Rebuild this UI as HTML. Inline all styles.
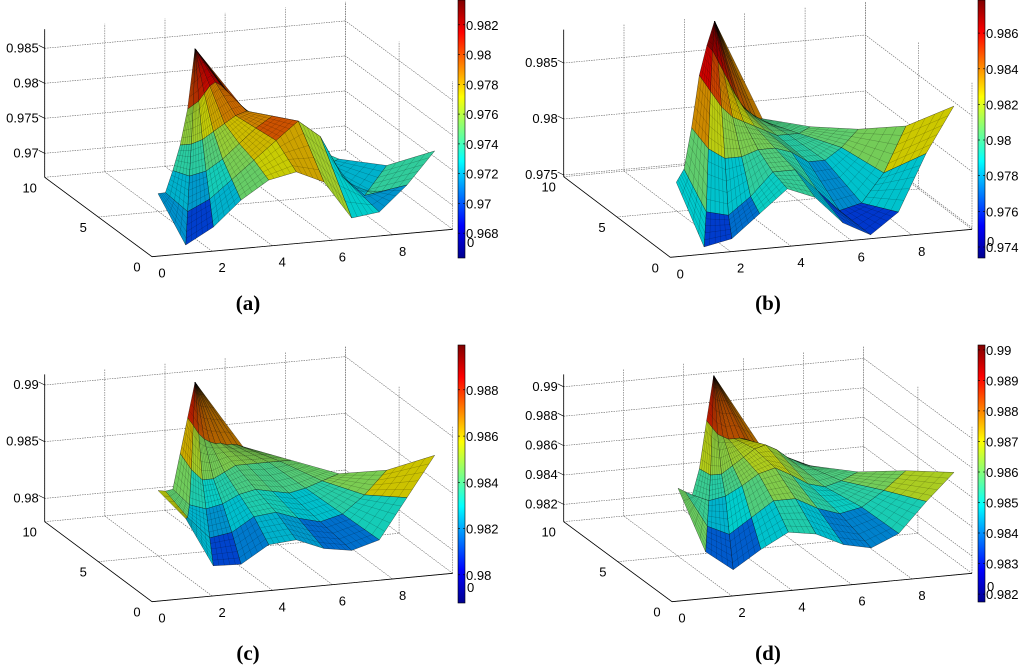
<!DOCTYPE html>
<html><head><meta charset="utf-8"><title>Surface plots (a)-(d)</title>
<style>
html,body{margin:0;padding:0;background:#fff;}
svg{display:block;}
text{font-family:"Liberation Sans",Arial,sans-serif;}
.cap{font-family:"Liberation Serif","Times New Roman",serif;font-weight:bold;font-size:21px;}
</style></head>
<body>
<svg id="fig" xmlns="http://www.w3.org/2000/svg" width="1024" height="665" viewBox="0 0 1024 665">
<defs>
<linearGradient id="jet" x1="0" y1="1" x2="0" y2="0">
<stop offset="0" stop-color="#00008f"/><stop offset="0.125" stop-color="#0000ff"/>
<stop offset="0.375" stop-color="#00ffff"/><stop offset="0.625" stop-color="#ffff00"/>
<stop offset="0.875" stop-color="#ff0000"/><stop offset="1" stop-color="#800000"/>
</linearGradient>
</defs>
</svg>
<script>
// ---- data ----
const rowY=[0,2,4,6,8,10];
const colU=[0,0.1,0.2,0.3,0.4,0.5,0.6,0.7,0.8,0.9,1];
const xTicks=[0,2,4,6,8];
const xGrid=[0,2,4,6,8,10];
const yTicks=[0,5,10];
const zTicksA=[0.97,0.975,0.98,0.985];
const zTicksB=[0.975,0.98,0.985];
const zTicksC=[0.98,0.985,0.99];
const zTicksD=[0.982,0.984,0.986,0.988,0.99];
const cbTicksA=[0.968,0.97,0.972,0.974,0.976,0.978,0.98,0.982];
const cbTicksB=[0.974,0.976,0.978,0.98,0.982,0.984,0.986];
const cbTicksC=[0.98,0.982,0.984,0.986,0.988];
const cbTicksD=[0.982,0.983,0.984,0.985,0.986,0.987,0.988,0.989,0.99];
const surfaceA=[
[0.9755,0.9678,0.9700,0.9735,0.9760,0.9768,0.9750,0.9695,0.9700,0.9735,0.9780],
[0.9730,0.9700,0.9715,0.9740,0.9765,0.9790,0.9815,0.9790,0.9730,0.9700,0.9740],
[0.9735,0.9725,0.9730,0.9745,0.9765,0.9785,0.9800,0.9780,0.9740,0.9720,0.9730],
[0.9745,0.9745,0.9750,0.9760,0.9770,0.9780,0.9785,0.9770,0.9755,0.9740,0.9740],
[0.9770,0.9775,0.9780,0.9790,0.9800,0.9805,0.9800,0.9790,0.9780,0.9770,0.9765],
[0.9830,0.9830,0.9830,0.9830,0.9830,0.9830,0.9830,0.9830,0.9830,0.9830,0.9830]];
const surfaceB=[
[0.9815,0.9755,0.9760,0.9780,0.9800,0.9790,0.9765,0.9752,0.9770,0.9820,0.9860],
[0.9810,0.9770,0.9765,0.9780,0.9800,0.9800,0.9780,0.9760,0.9765,0.9790,0.9830],
[0.9830,0.9810,0.9800,0.9800,0.9805,0.9805,0.9800,0.9790,0.9790,0.9800,0.9815],
[0.9860,0.9845,0.9830,0.9820,0.9815,0.9810,0.9805,0.9800,0.9800,0.9800,0.9805],
[0.9870,0.9865,0.9855,0.9845,0.9835,0.9825,0.9815,0.9810,0.9805,0.9800,0.9800],
[0.9875,0.9875,0.9875,0.9875,0.9875,0.9875,0.9875,0.9875,0.9875,0.9875,0.9875]];
const surfaceC=[
[0.9877,0.9850,0.9806,0.9805,0.9820,0.9822,0.9812,0.9808,0.9815,0.9850,0.9885],
[0.9860,0.9835,0.9815,0.9818,0.9830,0.9832,0.9825,0.9820,0.9825,0.9840,0.9860],
[0.9845,0.9830,0.9825,0.9828,0.9835,0.9838,0.9835,0.9832,0.9835,0.9840,0.9845],
[0.9860,0.9845,0.9835,0.9835,0.9840,0.9845,0.9845,0.9845,0.9845,0.9845,0.9845],
[0.9875,0.9868,0.9860,0.9855,0.9852,0.9850,0.9850,0.9848,0.9848,0.9847,0.9845],
[0.9890,0.9890,0.9890,0.9890,0.9890,0.9890,0.9890,0.9890,0.9890,0.9890,0.9890]];
const surfaceD=[
[0.9885,0.9840,0.9826,0.9838,0.9848,0.9845,0.9836,0.9832,0.9840,0.9860,0.9878],
[0.9870,0.9845,0.9838,0.9848,0.9858,0.9858,0.9850,0.9845,0.9848,0.9858,0.9870],
[0.9855,0.9850,0.9852,0.9858,0.9865,0.9868,0.9862,0.9855,0.9852,0.9855,0.9860],
[0.9860,0.9855,0.9855,0.9860,0.9865,0.9870,0.9872,0.9868,0.9862,0.9858,0.9855],
[0.9880,0.9875,0.9870,0.9868,0.9866,0.9866,0.9866,0.9865,0.9862,0.9860,0.9858],
[0.9898,0.9898,0.9898,0.9898,0.9898,0.9898,0.9898,0.9898,0.9898,0.9898,0.9898]];

// ---- geometry (layout, not data) ----
const panels=[
 {id:'a',FL:[152,256.7],FR:[452.7,229.3],BL:[44.7,177.3],zmin:0.96657,zs:7000,ztop:0.98771,zt:zTicksA,
  cb:{x:458,w:7,y0:0,y1:258,vmin:0.96633,vmax:0.98367,ticks:cbTicksA,zero:243},cap:[248,303],surf:surfaceA},
 {id:'b',FL:[670.3,257.3],FR:[972,229.3],BL:[563.7,176.7],zmin:0.97485,zs:11200,ztop:0.98798,zt:zTicksB,
  cb:{x:978,w:7,y0:0,y1:258,vmin:0.97338,vmax:0.98786,ticks:cbTicksB,zero:242},cap:[768,303],surf:surfaceB},
 {id:'c',FL:[152,601.7],FR:[452.7,573.3],BL:[44.7,521.7],zmin:0.97794,zs:11333,ztop:0.99094,zt:zTicksC,
  cb:{x:458,w:7,y0:345,y1:603,vmin:0.97878,vmax:0.98994,ticks:cbTicksC,zero:588},cap:[248,653],surf:surfaceC},
 {id:'d',FL:[672,601.7],FR:[972,573.3],BL:[563.7,521.7],zmin:0.98082,zs:14700,ztop:0.99084,zt:zTicksD,
  cb:{x:978,w:7,y0:345,y1:602,vmin:0.98174,vmax:0.99016,ticks:cbTicksD,zero:587},cap:[768,653],surf:surfaceD}
];
const NS='http://www.w3.org/2000/svg';
const svg=document.getElementById('fig');
function mk(tag,attrs,parent){const e=document.createElementNS(NS,tag);for(const k in attrs)e.setAttribute(k,attrs[k]);(parent||svg).appendChild(e);return e;}
function P(g,x,y,z){return [g.FL[0]+x*(g.FR[0]-g.FL[0])/10+y*(g.BL[0]-g.FL[0])/10,
 g.FL[1]+x*(g.FR[1]-g.FL[1])/10+y*(g.BL[1]-g.FL[1])/10-(z-g.zmin)*g.zs];}
function jet(t){t=Math.max(0,Math.min(1,t));const c=v=>Math.round(255*Math.max(0,Math.min(1,v)));
 return [c(1.5-Math.abs(4*t-3)),c(1.5-Math.abs(4*t-2)),c(1.5-Math.abs(4*t-1))];}
function xl(y){return 0.2+0.48*y;}
function xr(y){return 9.4-0.44*y;}
function fmt(v){return String(+v.toFixed(4));}
function lerp(a,b,t){return [a[0]+(b[0]-a[0])*t,a[1]+(b[1]-a[1])*t];}

panels.forEach(g=>{
 const grp=mk('g',{});
 
 
 const gridStyle={stroke:'#666','stroke-width':0.6,'stroke-dasharray':'1.5 1',fill:'none'};
 function line(a,b,name,style,parent){const l=mk('line',Object.assign({x1:a[0].toFixed(1),y1:a[1].toFixed(1),x2:b[0].toFixed(1),y2:b[1].toFixed(1)},style),parent);
  
  return l;}
 xGrid.forEach(x=>{line(P(g,x,10,g.zmin),P(g,x,10,g.ztop),'back-wall-gridline',gridStyle,grp);});
 g.zt.forEach(z=>{line(P(g,0,10,z),P(g,10,10,z),'back-wall-z-gridline',gridStyle,grp);});
 yTicks.forEach(y=>{line(P(g,10,y,g.zmin),P(g,10,y,g.ztop),'side-wall-gridline',gridStyle,grp);});
 g.zt.forEach(z=>{line(P(g,10,0,z),P(g,10,10,z),'side-wall-z-gridline',gridStyle,grp);});
 xGrid.forEach(x=>{line(P(g,x,0,g.zmin),P(g,x,10,g.zmin),'floor-x-gridline',gridStyle,grp);});
 yTicks.forEach(y=>{line(P(g,0,y,g.zmin),P(g,10,y,g.zmin),'floor-y-gridline',gridStyle,grp);});
 const ax={stroke:'#000','stroke-width':0.8};
 line(P(g,0,0,g.zmin),P(g,10,0,g.zmin),'x-axis-line',ax,grp);
 line(P(g,0,0,g.zmin),P(g,0,10,g.zmin),'y-axis-line',ax,grp);
 line(P(g,0,10,g.zmin),P(g,0,10,g.ztop),'z-axis-line',ax,grp);
 const quads=[];
 for(let i=0;i<rowY.length-1;i++){for(let j=0;j<colU.length-1;j++){
  const pts=[[i,j],[i,j+1],[i+1,j+1],[i+1,j]].map(([r,c])=>{const y=rowY[r];const x=xl(y)+colU[c]*(xr(y)-xl(y));return {x:x,y:y,z:g.surf[r][c]};});
  const cx=pts.reduce((s,p)=>s+p.x,0)/4, cy=pts.reduce((s,p)=>s+p.y,0)/4;
  const zm=pts.reduce((s,p)=>s+p.z,0)/4;
  quads.push({pts:pts,depth:P(g,cx,cy,g.zmin)[1],zm:zm});
 }}
 quads.sort((a,b)=>a.depth-b.depth);
 const sg=mk('g',{},grp);
 
 
 quads.forEach(q=>{
  const col=jet((q.zm-g.cb.vmin)/(g.cb.vmax-g.cb.vmin)).map(v=>Math.round(v*0.8));
  const sp=q.pts.map(p=>P(g,p.x,p.y,p.z));
  const d=sp.map(p=>p.map(v=>v.toFixed(1)).join(',')).join(' ');
  const pg=mk('polygon',{points:d,fill:'rgb('+col.join(',')+')',stroke:'rgba(0,0,0,0.6)','stroke-width':0.5,'stroke-linejoin':'round'},sg);
  
  
  // dense mesh look
  let dm='';
  for(let k=1;k<5;k++){const t=k/5;
   const a=lerp(sp[0],sp[1],t),b=lerp(sp[3],sp[2],t);dm+='M'+a[0].toFixed(1)+' '+a[1].toFixed(1)+'L'+b[0].toFixed(1)+' '+b[1].toFixed(1);
   const c=lerp(sp[0],sp[3],t),e=lerp(sp[1],sp[2],t);dm+='M'+c[0].toFixed(1)+' '+c[1].toFixed(1)+'L'+e[0].toFixed(1)+' '+e[1].toFixed(1);}
  const mp=mk('path',{d:dm,stroke:'rgba(0,0,0,0.35)','stroke-width':0.4,fill:'none'},sg);
  
  
 });
 function txt(x,y,s,name,anchor){const t=mk('text',{x:x.toFixed(1),y:y.toFixed(1),'font-size':13,'text-anchor':anchor||'middle',fill:'#000'},grp);t.textContent=s;
  
  return t;}
 xTicks.forEach(x=>{const p=P(g,x,0,g.zmin);txt(p[0]+10,p[1]+21,String(x),'x-tick-label');});
 yTicks.forEach(y=>{const p=P(g,0,y,g.zmin);txt(p[0]-15,p[1]+15,String(y),'y-tick-label');});
 g.zt.forEach(z=>{const p=P(g,0,10,z);line([p[0]-6,p[1]-3],p,'z-tick-mark',{stroke:'#000','stroke-width':0.6},grp);txt(p[0]-6,p[1]+4,fmt(z),'z-tick-label','end');});
 const cb=g.cb;
 const r=mk('rect',{x:cb.x,y:cb.y0,width:cb.w,height:cb.y1-cb.y0,fill:'url(#jet)',stroke:'#000','stroke-width':0.6},grp);
 
 
 cb.ticks.forEach(v=>{const y=cb.y1-(v-cb.vmin)/(cb.vmax-cb.vmin)*(cb.y1-cb.y0);
  line([cb.x,y],[cb.x+2,y],'colorbar-tick',{stroke:'#000','stroke-width':0.6},grp);
  line([cb.x+cb.w-2,y],[cb.x+cb.w,y],'colorbar-tick',{stroke:'#000','stroke-width':0.6},grp);
  txt(cb.x+cb.w+1,y+5,fmt(v),'colorbar-tick-label','start');});
 txt(cb.x+cb.w+2,cb.zero+4,'0','colorbar-zero-label','start');
 const cap=mk('text',{x:g.cap[0],y:g.cap[1]+7,'text-anchor':'middle',class:'cap'},grp);
 cap.textContent='('+g.id+')';
 
 
});
</script>
</body></html>
